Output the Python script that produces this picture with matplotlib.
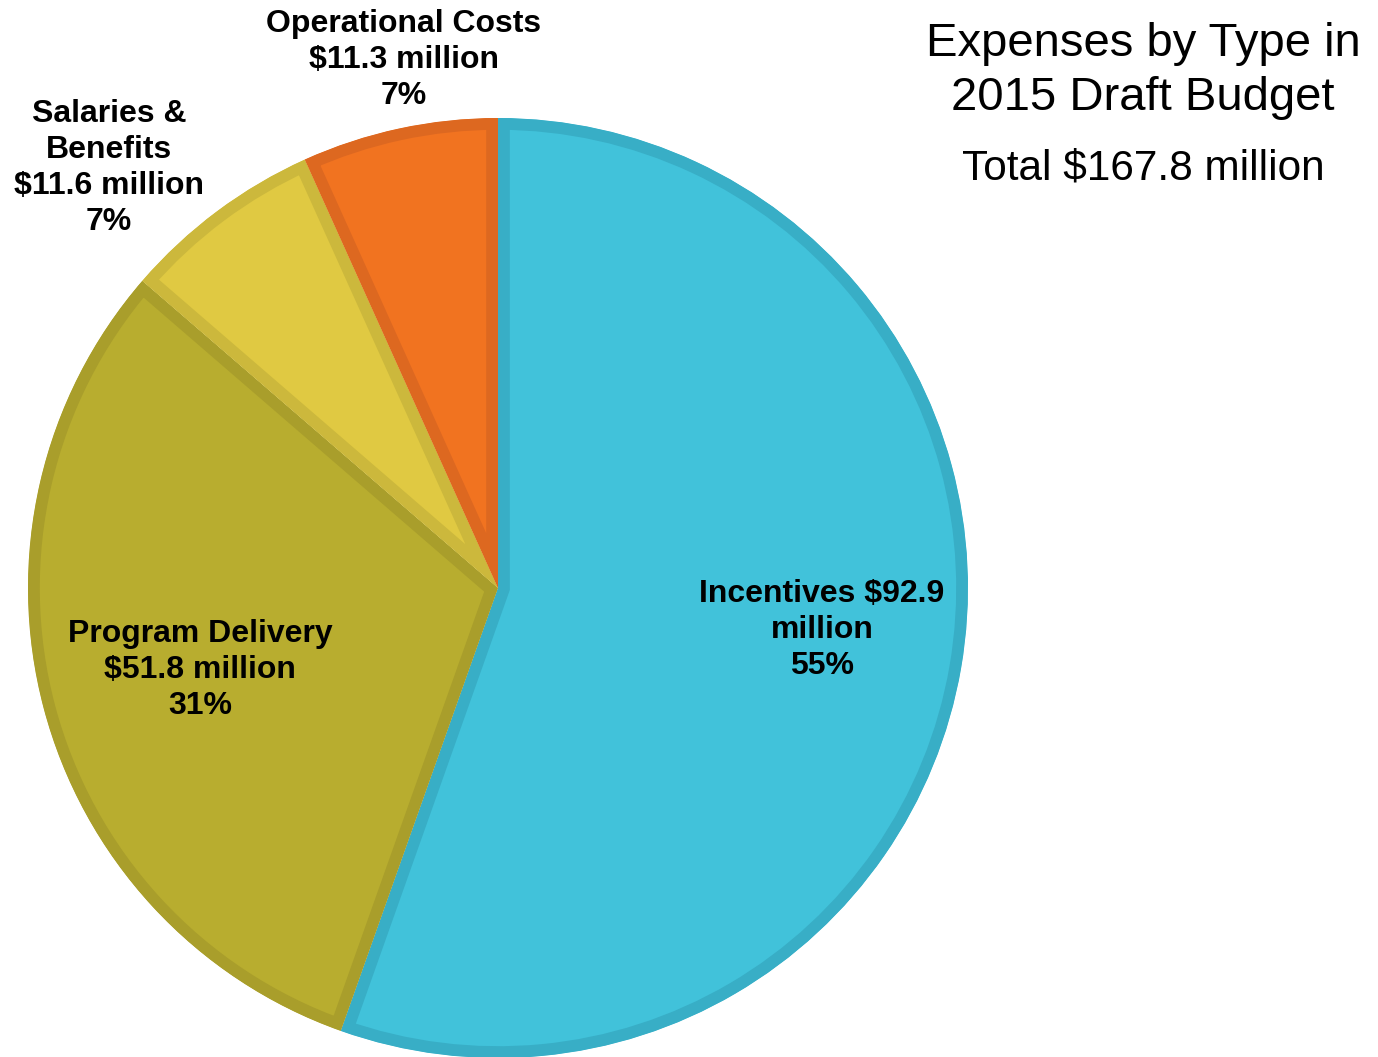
import matplotlib.pyplot as plt

plt.rcParams['font.family'] = ['Liberation Sans', 'DejaVu Sans']

# expense categories, in millions of dollars
categories = ["Incentives", "Program Delivery", "Salaries &\nBenefits", "Operational Costs"]
amounts = [92.9, 51.8, 11.6, 11.3]
total_budget = 167.8

fill_colors = ["#41C2DA", "#B8AD2F", "#E0C942", "#F17320"]
edge_colors = ["#38AEC6", "#A99E2B", "#CCB83C", "#DD6820"]

# label centres in figure pixels (x, y from top)
label_pos = [(822, 630), (200, 670), (109, 168), (404, 60)]
label_text = [
    "Incentives ${:.1f}\nmillion\n{:.0f}%",
    "Program Delivery\n${:.1f} million\n{:.0f}%",
    "Salaries &\nBenefits\n${:.1f} million\n{:.0f}%",
    "Operational Costs\n${:.1f} million\n{:.0f}%",
]

W, H = 1378, 1057
fig = plt.figure(figsize=(W / 100, H / 100), dpi=100)
cx, cy, r = 498, 588, 470
ax = fig.add_axes([(cx - r) / W, (H - cy - r) / H, 2 * r / W, 2 * r / H])

wedges, _ = ax.pie(amounts, colors=fill_colors, startangle=90, counterclock=False,
                   radius=1.0, wedgeprops=dict(linewidth=17))
# darker band on the inside of each slice: double-width edge clipped to the slice
for w, ec in zip(wedges, edge_colors):
    w.set_edgecolor(ec)
    w.set_joinstyle('miter')
    w.set_clip_on(True)
    w.set_clip_path(w.get_path(), w.get_transform())

ax.set_xlim(-1, 1)
ax.set_ylim(-1, 1)
ax.set_aspect('equal')
ax.axis('off')

for (px, py), tmpl, amt in zip(label_pos, label_text, amounts):
    pct = amt / total_budget * 100
    fig.text(px / W, 1 - py / H, tmpl.format(amt, pct), ha='center', va='center',
             fontsize=23, fontweight='bold', color='black', linespacing=1.27)

fig.text(1143 / W, 1 - 71 / H, "Expenses by Type in\n2015 Draft Budget", ha='center',
         va='center', fontsize=34, linespacing=1.31)
fig.text(1143 / W, 1 - 169 / H, "Total ${:.1f} million".format(total_budget), ha='center',
         va='center', fontsize=30.5)

fig.savefig("out.png", dpi=100, facecolor='white')
